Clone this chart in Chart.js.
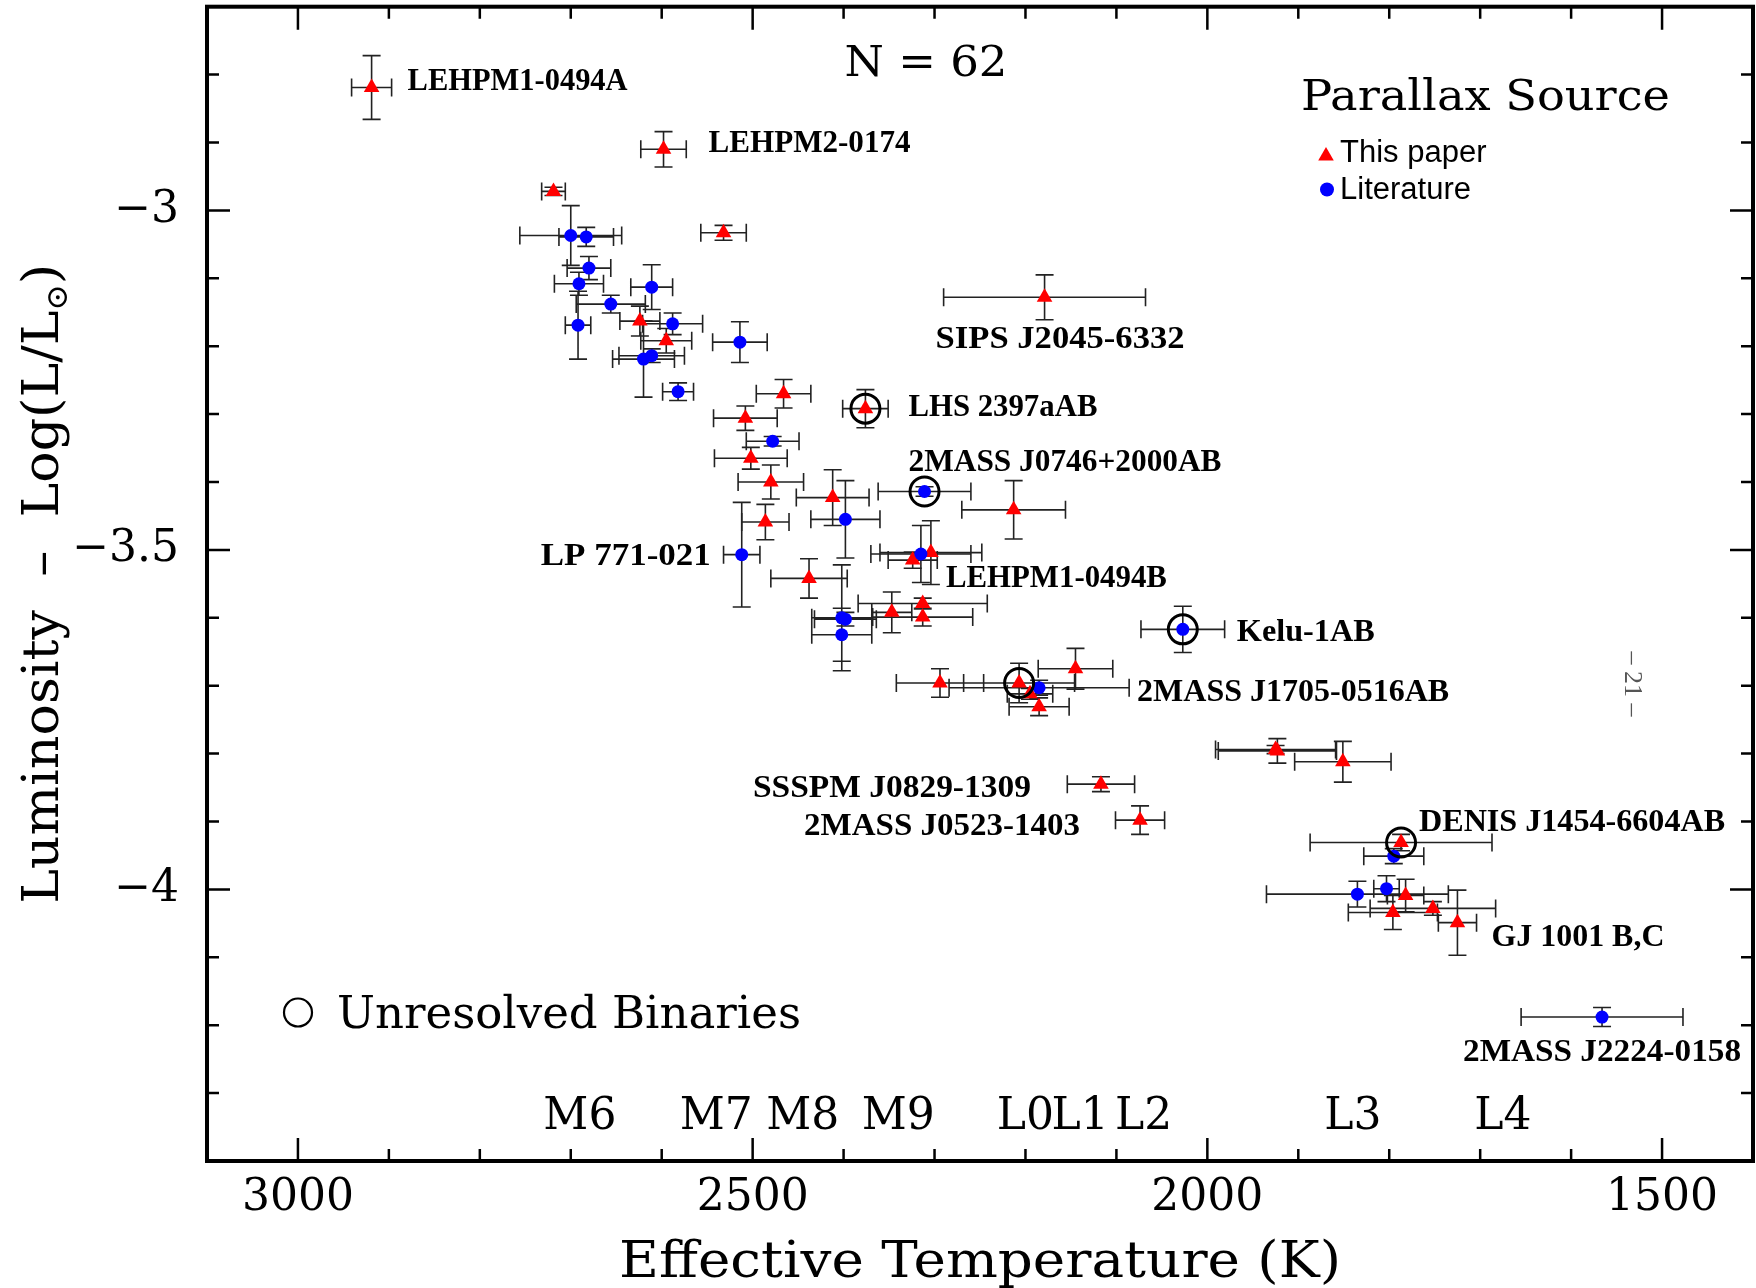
<!DOCTYPE html>
<html>
<head>
<meta charset="utf-8">
<script src="https://cdn.jsdelivr.net/npm/chart.js@4.4.1/dist/chart.umd.min.js"></script>
<style>
  html, body { margin: 0; padding: 0; background: #fff; }
  #wrap { width: 1756px; height: 1288px; }
</style>
</head>
<body>
<div id="wrap"><canvas id="hrd" width="1756" height="1288"></canvas></div>
<script>
// Teff vs. luminosity for late-M and L dwarfs, split by parallax source

// parallaxes measured in this paper (triangles)
const paperTeff = [2919, 2598, 2719, 2532, 2624, 2595, 2466, 2508, 2376, 2502,
                   2480, 2412, 2213, 2486, 2304, 2324, 2438, 2347, 2313, 2313,
                   2179, 2294, 2207, 2195, 2185, 2145, 1925, 1923, 1851, 2117,
                   2074, 1787, 1782, 1796, 1752, 1725];
const paperTeffErr = [22, 25, 13, 25, 22, 28, 30, 35, 25, 40,
                      36, 40, 57, 26, 56, 27, 42, 22, 71, 55,
                      111, 48, 61, 25, 33, 41, 66, 65, 53, 37,
                      27, 100, 20, 49, 69, 21];
const paperLum = [-2.819, -2.910, -2.972, -3.033, -3.163, -3.192, -3.270, -3.306, -3.292, -3.365,
                  -3.400, -3.423, -3.441, -3.459, -3.504, -3.515, -3.542, -3.592, -3.579, -3.599,
                  -3.128, -3.696, -3.696, -3.712, -3.731, -3.675, -3.794, -3.796, -3.812, -3.845,
                  -3.898, -3.931, -4.009, -4.034, -4.028, -4.049];
const paperLumErr = [0.047, 0.026, 0.006, 0.011, 0.022, 0.018, 0.021, 0.018, 0.028, 0.016,
                     0.025, 0.041, 0.043, 0.026, 0.047, 0.012, 0.029, 0.030, 0.008, 0.013,
                     0.033, 0.021, 0.029, 0.008, 0.013, 0.030, 0.006, 0.018, 0.030, 0.011,
                     0.021, 0.012, 0.024, 0.025, 0.010, 0.048];

// parallaxes from the literature (circles)
const litTeff = [2700, 2683, 2680, 2691, 2656, 2611, 2692, 2588, 2620, 2611,
                 2582, 2514, 2478, 2398, 2311, 2512, 2315, 2402, 2398, 2402,
                 2027, 2185, 1795, 1835, 1803, 1566];
const litTeffErr = [56, 30, 24, 27, 38, 23, 14, 33, 34, 36,
                    17, 30, 29, 38, 51, 20, 55, 33, 34, 33,
                    46, 99, 33, 100, 14, 89];
const litLum = [-3.037, -3.039, -3.085, -3.108, -3.138, -3.113, -3.169, -3.167, -3.219, -3.214,
                -3.267, -3.194, -3.340, -3.455, -3.414, -3.507, -3.506, -3.600, -3.602, -3.625,
                -3.617, -3.703, -3.951, -4.007, -3.999, -4.188];
const litLumErr = [0.044, 0.014, 0.017, 0.017, 0.013, 0.033, 0.050, 0.016, 0.056, 0.010,
                   0.013, 0.030, 0.007, 0.057, 0.007, 0.077, 0.042, 0.078, 0.010, 0.039,
                   0.034, 0.011, 0.011, 0.019, 0.019, 0.014];

// unresolved binaries: [set, index]
const binaryRefs = [['paper', 8], ['lit', 14], ['lit', 20], ['paper', 22], ['paper', 31]];

// axis ticks
const xTickValues = [3000, 2500, 2000, 1500];
const yTickValues = [-3, -3.5, -4];

// spectral type scale along the bottom
const spTypes = ['M6', 'M7', 'M8', 'M9', 'L0', 'L1', 'L2', 'L3', 'L4'];
const spTeff = [2690, 2540, 2445, 2340, 2200, 2140, 2070, 1840, 1675];

// named objects
const nameText = ['LEHPM1-0494A', 'LEHPM2-0174', 'SIPS J2045-6332', 'LHS 2397aAB',
                  '2MASS J0746+2000AB', 'LP 771-021', 'LEHPM1-0494B', 'Kelu-1AB',
                  '2MASS J1705-0516AB', 'SSSPM J0829-1309', '2MASS J0523-1403',
                  'DENIS J1454-6604AB', 'GJ 1001 B,C', '2MASS J2224-0158'];
const nameRefs = [['paper', 0], ['paper', 1], ['paper', 20], ['paper', 8],
                  ['lit', 14], ['lit', 15], ['paper', 14], ['lit', 20],
                  ['paper', 22], ['paper', 29], ['paper', 30],
                  ['paper', 31], ['paper', 35], ['lit', 25]];
// label placement relative to its star: dx, dy (px), anchor, text width (px)
const nameLayout = [[36, -8, 'left', 220], [45, -8, 'left', 202], [-109, 40, 'left', 249], [43, -3, 'left', 189],
                    [-16, -31, 'left', 313], [-31, 0, 'right', 170], [15, 24, 'left', 221], [54, 1, 'left', 138],
                    [118, 8, 'left', 312], [-70, 2, 'right', 278], [-60, 4, 'right', 276],
                    [18, -22, 'left', 306], [34, 13, 'left', 173], [0, 33, 'center', 278]];

const sets = {
  paper: { teff: paperTeff, teffErr: paperTeffErr, lum: paperLum, lumErr: paperLumErr },
  lit: { teff: litTeff, teffErr: litTeffErr, lum: litLum, lumErr: litLumErr }
};

const SERIF = '"DejaVu Serif", serif';

function toPoints(s) {
  return s.teff.map((t, i) => ({ x: t, y: s.lum[i] }));
}

function drawErrorBars(ctx, xs, ys, s) {
  const cap = 9;
  ctx.save();
  ctx.strokeStyle = '#222';
  ctx.lineWidth = 1.6;
  ctx.beginPath();
  for (let i = 0; i < s.teff.length; i++) {
    const x = xs.getPixelForValue(s.teff[i]);
    const y = ys.getPixelForValue(s.lum[i]);
    const x0 = xs.getPixelForValue(s.teff[i] + s.teffErr[i]);
    const x1 = xs.getPixelForValue(s.teff[i] - s.teffErr[i]);
    const y0 = ys.getPixelForValue(s.lum[i] + s.lumErr[i]);
    const y1 = ys.getPixelForValue(s.lum[i] - s.lumErr[i]);
    ctx.moveTo(x0, y); ctx.lineTo(x1, y);
    ctx.moveTo(x0, y - cap); ctx.lineTo(x0, y + cap);
    ctx.moveTo(x1, y - cap); ctx.lineTo(x1, y + cap);
    ctx.moveTo(x, y0); ctx.lineTo(x, y1);
    ctx.moveTo(x - cap, y0); ctx.lineTo(x + cap, y0);
    ctx.moveTo(x - cap, y1); ctx.lineTo(x + cap, y1);
  }
  ctx.stroke();
  ctx.restore();
}

// text squeezed/stretched to a given width; x is the anchor, y the baseline
function fitText(ctx, text, x, y, width, font, align) {
  ctx.save();
  ctx.font = font;
  const w = ctx.measureText(text).width;
  let left = x;
  if (align === 'center') left = x - width / 2;
  if (align === 'right') left = x - width;
  ctx.translate(left, y);
  ctx.scale(width / w, 1);
  ctx.textAlign = 'left';
  ctx.textBaseline = 'alphabetic';
  ctx.fillText(text, 0, 0);
  ctx.restore();
}

function triangle(ctx, x, y, r) {
  const a = 2 * Math.PI / 3;
  ctx.beginPath();
  ctx.moveTo(x, y - r);
  ctx.lineTo(x + Math.sin(a) * r, y - Math.cos(a) * r);
  ctx.lineTo(x + Math.sin(2 * a) * r, y - Math.cos(2 * a) * r);
  ctx.closePath();
  ctx.fill();
}

// keep the plot frame fixed: no extra room for edge labels
function fixBox(size) {
  return s => {
    if (s.isHorizontal()) s.height = size; else s.width = size;
    s.paddingTop = 0; s.paddingBottom = 0; s.paddingLeft = 0; s.paddingRight = 0;
  };
}

const decor = {
  id: 'decor',
  beforeDatasetsDraw(chart) {
    const { ctx, scales: { x, y } } = chart;
    drawErrorBars(ctx, x, y, sets.paper);
    drawErrorBars(ctx, x, y, sets.lit);
  },
  afterDraw(chart) {
    const { ctx, chartArea: a, scales: { x: xs, y: ys } } = chart;
    ctx.save();
    ctx.fillStyle = '#000';
    ctx.strokeStyle = '#000';

    // inward ticks on all four sides
    ctx.lineWidth = 2.5;
    ctx.beginPath();
    for (let t = 1400; t <= 3100; t += 100) {
      const px = xs.getPixelForValue(t);
      const len = t % 500 === 0 ? 23 : 12;
      ctx.moveTo(px, a.bottom); ctx.lineTo(px, a.bottom - len);
      ctx.moveTo(px, a.top); ctx.lineTo(px, a.top + len);
    }
    for (let k = -44; k <= -27; k++) {
      const py = ys.getPixelForValue(k / 10);
      const len = k % 5 === 0 ? 23 : 12;
      ctx.moveTo(a.left, py); ctx.lineTo(a.left + len, py);
      ctx.moveTo(a.right, py); ctx.lineTo(a.right - len, py);
    }
    ctx.stroke();
    ctx.lineWidth = 4;
    ctx.strokeRect(a.left, a.top, a.right - a.left, a.bottom - a.top);

    // spectral types
    ctx.font = '44px ' + SERIF;
    ctx.textAlign = 'center';
    ctx.textBaseline = 'alphabetic';
    spTypes.forEach((s, i) => ctx.fillText(s, xs.getPixelForValue(spTeff[i]), 1129));

    // axis titles
    fitText(ctx, 'Effective Temperature (K)', (a.left + a.right) / 2, 1277, 722, '50px ' + SERIF, 'center');

    const big = '50px ' + SERIF, small = '30px ' + SERIF;
    const main = 'Luminosity  \u2013  Log(L/L', sub = '\u2299', tail = ')';
    ctx.font = big;
    const w1 = ctx.measureText(main).width, w3 = ctx.measureText(tail).width;
    ctx.font = small;
    const w2 = ctx.measureText(sub).width;
    const total = w1 + w2 + w3;
    ctx.save();
    ctx.translate(58, (a.top + a.bottom) / 2);
    ctx.rotate(-Math.PI / 2);
    ctx.scale(640 / total, 1);
    ctx.textAlign = 'left';
    let cx = -total / 2;
    ctx.font = big; ctx.fillText(main, cx, 0); cx += w1;
    ctx.font = small; ctx.fillText(sub, cx, 9); cx += w2;
    ctx.font = big; ctx.fillText(tail, cx, 0);
    ctx.restore();

    // sample size and legend
    fitText(ctx, 'N = 62', 926, 76, 163, '43px ' + SERIF, 'center');
    fitText(ctx, 'Parallax Source', 1301, 110, 369, '43px ' + SERIF, 'left');
    ctx.fillStyle = '#ff0000';
    triangle(ctx, 1326, 156, 9);
    ctx.fillStyle = '#0000ff';
    ctx.beginPath(); ctx.arc(1327, 189.5, 7, 0, 2 * Math.PI); ctx.fill();
    ctx.fillStyle = '#000';
    ctx.font = '31px "Liberation Sans", Arial, sans-serif';
    ctx.textAlign = 'left';
    ctx.fillText('This paper', 1340, 162);
    ctx.fillText('Literature', 1340, 199);

    ctx.lineWidth = 2.2;
    ctx.beginPath(); ctx.arc(298, 1012.5, 14, 0, 2 * Math.PI); ctx.stroke();
    fitText(ctx, 'Unresolved Binaries', 337, 1028, 464, '44px ' + SERIF, 'left');

    // object names
    const nameFont = 'bold 32px "Liberation Serif", "Times New Roman", serif';
    nameText.forEach((txt, i) => {
      const s = sets[nameRefs[i][0]], j = nameRefs[i][1];
      const [dx, dy, align, width] = nameLayout[i];
      const px = xs.getPixelForValue(s.teff[j]) + dx;
      const py = ys.getPixelForValue(s.lum[j]) + dy + 10.5;
      fitText(ctx, txt, px, py, width, nameFont, align);
    });

    // page number
    ctx.save();
    ctx.translate(1632, 684);
    ctx.rotate(Math.PI / 2);
    ctx.fillStyle = '#555';
    ctx.font = '26px "Liberation Serif", serif';
    ctx.textAlign = 'center';
    ctx.textBaseline = 'middle';
    ctx.fillText('\u2013 21 \u2013', 0, 0);
    ctx.restore();

    ctx.restore();
  }
};

const binaryPoints = binaryRefs.map(([set, i]) => ({ x: sets[set].teff[i], y: sets[set].lum[i] }));

new Chart(document.getElementById('hrd'), {
  type: 'scatter',
  data: {
    datasets: [
      {
        label: 'Unresolved Binaries',
        data: binaryPoints,
        order: 0,
        pointStyle: 'circle',
        pointRadius: 14.5,
        pointHoverRadius: 14.5,
        backgroundColor: 'rgba(0,0,0,0)',
        borderColor: '#000',
        borderWidth: 3
      },
      {
        label: 'Literature',
        data: toPoints(sets.lit),
        order: 1,
        pointStyle: 'circle',
        pointRadius: 6.5,
        pointHoverRadius: 6.5,
        backgroundColor: '#0000ff',
        borderWidth: 0
      },
      {
        label: 'This paper',
        data: toPoints(sets.paper),
        order: 2,
        pointStyle: 'triangle',
        pointRadius: 9,
        pointHoverRadius: 9,
        backgroundColor: '#ff0000',
        borderWidth: 0
      }
    ]
  },
  options: {
    responsive: false,
    animation: false,
    events: [],
    layout: { autoPadding: false, padding: { left: 0, right: 3, top: 6.7, bottom: 0 } },
    plugins: { legend: { display: false }, tooltip: { enabled: false } },
    scales: {
      x: {
        type: 'linear',
        reverse: true,
        min: 1400,
        max: 3100,
        afterBuildTicks: s => { s.ticks = xTickValues.map(v => ({ value: v })); },
        afterFit: fixBox(127),
        grid: { display: false, drawTicks: false },
        border: { display: false },
        ticks: {
          autoSkip: false,
          maxRotation: 0,
          padding: 16,
          color: '#000',
          font: { family: 'DejaVu Serif', size: 44, lineHeight: 1 },
          callback: v => String(v)
        }
      },
      y: {
        type: 'linear',
        min: -4.4,
        max: -2.7,
        afterBuildTicks: s => { s.ticks = yTickValues.map(v => ({ value: v })); },
        afterFit: fixBox(207),
        grid: { display: false, drawTicks: false },
        border: { display: false },
        ticks: {
          autoSkip: false,
          padding: 28,
          color: '#000',
          font: { family: 'DejaVu Serif', size: 44, lineHeight: 1 },
          callback: v => '\u2212' + Math.abs(v)
        }
      }
    }
  },
  plugins: [decor]
});
</script>
</body>
</html>
